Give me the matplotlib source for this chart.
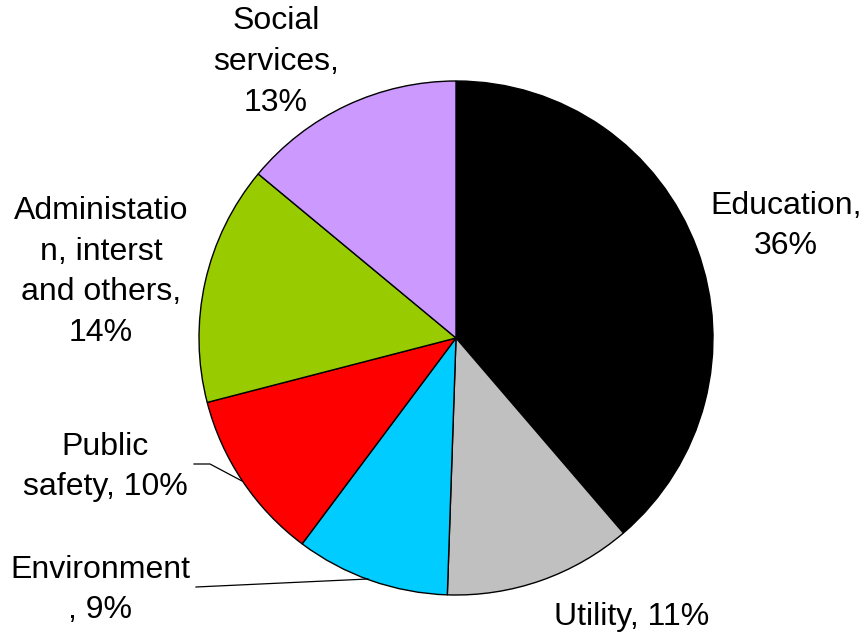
import matplotlib
matplotlib.use("Agg")
import matplotlib.pyplot as plt

# Budget shares by sector
categories = ["Education", "Utility", "Environment", "Public safety",
              "Administation, interst and others", "Social services"]
values = [36, 11, 9, 10, 14, 13]
label_texts = ["Education,\n36%", "Utility, 11%", "Environment\n, 9%",
               "Public\nsafety, 10%", "Administatio\nn, interst\nand others,\n14%",
               "Social\nservices,\n13%"]
colors = ["#000000", "#C0C0C0", "#00CCFF", "#FF0000", "#99CC00", "#CC99FF"]

W, H = 867, 639
fig = plt.figure(figsize=(W / 100, H / 100), dpi=100)
ax = fig.add_axes([0, 0, 1, 1])

cx, cy, r = 456, H - 338, 257
ax.pie(values, colors=colors, startangle=90, counterclock=False,
       center=(cx, cy), radius=r, frame=True,
       wedgeprops=dict(edgecolor="black", linewidth=1.0))
ax.set_xlim(0, W)
ax.set_ylim(0, H)
ax.set_aspect("equal")
ax.axis("off")

# label anchors (centre of each text block)
label_pos = [(786, H - 226), (632, H - 617), (100, H - 590),
             (105, H - 467), (101, H - 272), (276, H - 62)]
font = dict(family=["Liberation Sans", "DejaVu Sans"], fontsize=23,
            color="black", ha="center", va="center", linespacing=1.47)
for (x, y), t in zip(label_pos, label_texts):
    ax.text(x, y, t, **font)

# leader lines for the small slices
ax.plot([194, 210, 242], [H - 464, H - 464, H - 481], color="black", lw=0.9)
ax.plot([196, 368], [H - 587, H - 579], color="black", lw=0.9)

fig.savefig("out.png", dpi=100)
